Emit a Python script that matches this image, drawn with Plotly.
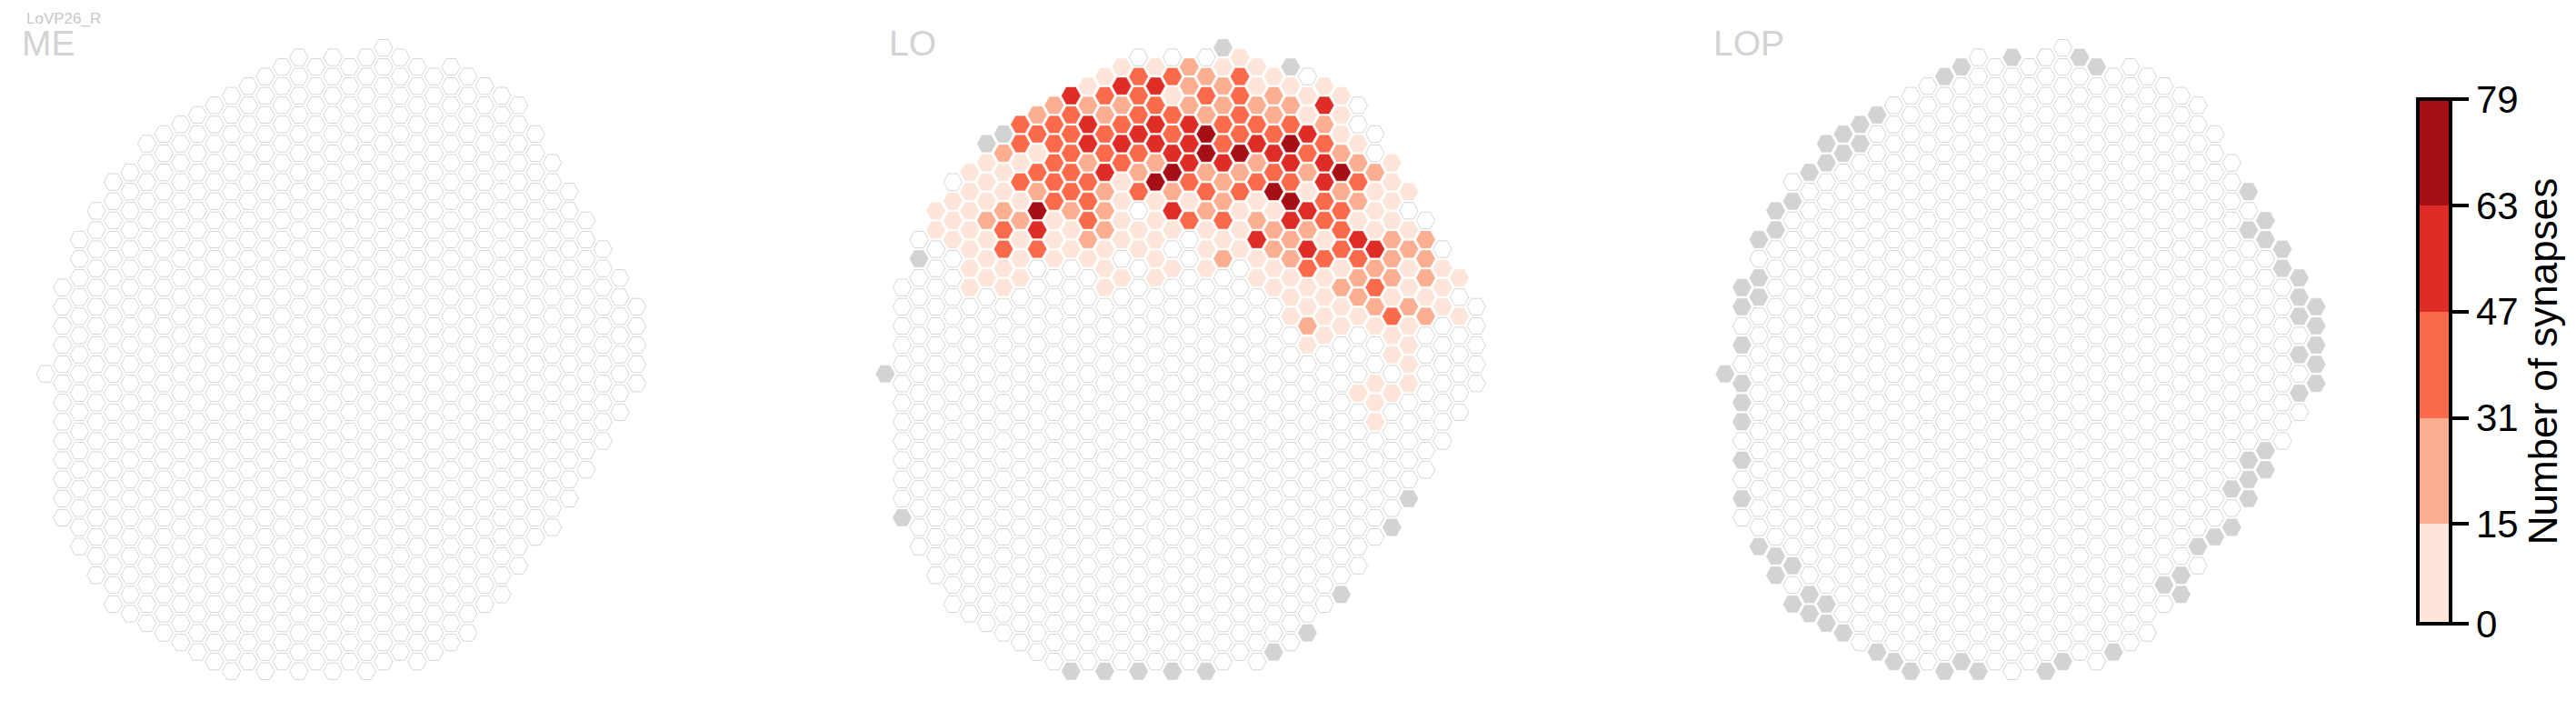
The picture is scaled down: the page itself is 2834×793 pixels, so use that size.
import plotly.graph_objects as go

W, H = 2834, 793

# ---------------- data ----------------
CELL_TYPE = "LoVP26_R"
PANELS = ["ME", "LO", "LOP"]

# shared hexagonal column grid: for each visual column (left -> right)
# first and last row index (half-row units, 0 = top)
COL_TOP = [34, 25, 20, 17, 14, 13, 10, 9, 8, 7, 6, 5, 4, 3, 2, 1, 2, 1,
           2, 1, 0, 1, 2, 3, 2, 3, 4, 5, 6, 9, 12, 15, 18, 21, 24, 27]
COL_BOTTOM = [34, 49, 52, 55, 58, 59, 60, 61, 62, 63, 64, 65, 64, 65, 64, 65, 64, 65,
              64, 65, 64, 63, 64, 63, 62, 61, 58, 57, 54, 51, 50, 47, 44, 41, 38, 35]

# colour bar classes
TICKS = [0, 15, 31, 47, 63, 79]
REDS = ["#fee5d9", "#fcae91", "#fb6a4a", "#de2d26", "#a50f15"]
# estimated synapse count for each class
CLASS_VALUE = {"0": 7, "1": 23, "2": 39, "3": 55, "4": 71}

# LO synapse classes per row: row -> (first column, codes for every 2nd column)
# "." = no synapses
LO_ROWS = {
    1: (15, "...0"),
    2: (14, "00100"),
    3: (13, "022120."),
    4: (12, "03311000"),
    5: (11, "322022100"),
    6: (10, "111211113."),
    7: (9, "1212212100"),
    8: (8, "2232332221."),
    9: (9, "2223242230."),
    10: (8, "22333323420"),
    11: (7, "10222344321."),
    12: (6, "0021213313310"),
    13: (5, "0022314112141"),
    14: (4, ".0222042122320"),
    15: (5, "00121212240100"),
    16: (4, "00022000104210"),
    17: (3, "001411.3100320."),
    18: (4, "01102002213200."),
    19: (3, "002301000011200"),
    20: (2, ".0000100.0310311"),
    21: (3, ".022000.0013231."),
    22: (2, "..0000.0.1012211"),
    23: (3, ".00..0.00.020100"),
    24: (2, "..00..00..0001110"),
    25: (1, "..00..0....001200"),
    26: (24, "00100."),
    27: (25, "00110."),
    28: (24, "000210"),
    29: (25, "1000"),
    30: (26, "0.0"),
    31: (25, "0..0"),
    32: (30, "0"),
    33: (31, "0"),
    35: (29, "00"),
    36: (28, "00"),
    37: (29, "0"),
    39: (29, "0"),
}

# columns not present in the neuropil (grey)
LO_GREY = [(20, 0), (24, 2), (7, 9), (6, 10), (2, 22), (0, 34), (1, 49), (31, 47),
           (30, 50), (27, 57), (25, 61), (23, 63), (11, 65), (13, 65), (15, 65),
           (17, 65), (19, 65)]
LOP_GREY = [(17, 1), (21, 1), (22, 2), (14, 2), (13, 3), (9, 7), (8, 8), (7, 9), (6, 10),
            (8, 10), (7, 11), (6, 12), (5, 13), (4, 16), (3, 17), (3, 19), (2, 20), (2, 24),
            (1, 25), (2, 26), (1, 27), (1, 31), (0, 34), (1, 35), (1, 37), (1, 39), (1, 43),
            (1, 47), (2, 52), (3, 53), (3, 55), (4, 54), (4, 58), (5, 57), (5, 59), (6, 58),
            (6, 60), (7, 61), (9, 63), (10, 64), (11, 65), (13, 65), (14, 64), (15, 65),
            (19, 65), (20, 64), (23, 63), (26, 56), (27, 55), (27, 57), (28, 52), (29, 51),
            (30, 50), (30, 46), (31, 47), (31, 45), (31, 43), (32, 42), (32, 44), (31, 15),
            (32, 18), (31, 19), (32, 20), (33, 21), (33, 23), (34, 24), (34, 26), (34, 28),
            (35, 27), (35, 29), (35, 31), (35, 33), (35, 35), (34, 32), (34, 36)]
ME_GREY = []

# ---------------- geometry (pixels) ----------------
PANEL_X0 = [50.2, 973.9, 1897.8]   # pixel x of column 0 in each panel
DX = 18.58                         # px per column
Y0 = 52.5                          # pixel y of row 0
DY = 10.55                         # px per half row
HX = 0.55                          # hexagon half width (columns)
HY = 0.865                         # hexagon half height (half rows)
XR = (-1.5, 36.5)
YR = (-2.0, 67.0)

# ---------------- build ----------------
cells = [(c, k) for c in range(len(COL_TOP))
         for k in range(COL_TOP[c], COL_BOTTOM[c] + 1, 2)]

lo_values = {}
for k, (start, codes) in LO_ROWS.items():
    for i, ch in enumerate(codes):
        if ch in CLASS_VALUE:
            lo_values[(start + 2 * i, k)] = CLASS_VALUE[ch]

panel_values = [{}, lo_values, {}]
panel_grey = [set(ME_GREY), set(LO_GREY), set(LOP_GREY)]


def value_class(v):
    n = 0
    for t in TICKS[1:-1]:
        if v >= t:
            n += 1
    return n


def hex_xy(cs):
    xs, ys = [], []
    for c, k in cs:
        xs += [c - HX, c - HX / 2, c + HX / 2, c + HX, c + HX / 2, c - HX / 2, c - HX, None]
        ys += [k, k - HY, k - HY, k, k + HY, k + HY, k, None]
    return xs, ys


fig = go.Figure()
for p, name in enumerate(PANELS):
    xa = "x" if p == 0 else f"x{p + 1}"
    ya = "y" if p == 0 else f"y{p + 1}"
    vals = panel_values[p]
    greys = panel_grey[p]
    white = [ck for ck in cells if ck not in vals and ck not in greys]
    grey = [ck for ck in cells if ck in greys]
    groups = [(white, "white", "#d6d6d6", 1.0), (grey, "#d3d3d3", "#d3d3d3", 0.6)]
    for ci, col in enumerate(REDS):
        sel = [ck for ck in cells if ck in vals and ck not in greys and value_class(vals[ck]) == ci]
        groups.append((sel, col, col, 0.6))
    for sel, fc, lc, lw in groups:
        if not sel:
            continue
        xs, ys = hex_xy(sel)
        fig.add_trace(go.Scatter(x=xs, y=ys, mode="lines", fill="toself", fillcolor=fc,
                                 line=dict(color=lc, width=lw), hoverinfo="skip",
                                 showlegend=False, xaxis=xa, yaxis=ya))
    if vals:
        pts = sorted(vals)
        fig.add_trace(go.Scatter(x=[c for c, k in pts], y=[k for c, k in pts], mode="markers",
                                 marker=dict(color=[vals[ck] for ck in pts], coloraxis="coloraxis",
                                             size=1, opacity=0),
                                 hoverinfo="skip", showlegend=False, xaxis=xa, yaxis=ya))

# stepped colour scale
scale = []
for i, col in enumerate(REDS):
    scale.append([(TICKS[i] - TICKS[0]) / (TICKS[-1] - TICKS[0]), col])
    scale.append([(TICKS[i + 1] - TICKS[0]) / (TICKS[-1] - TICKS[0]), col])

CB_TOP, CB_BOTTOM = 109, 686
layout = dict(
    width=W, height=H, margin=dict(l=0, r=0, t=0, b=0, pad=0),
    paper_bgcolor="white", plot_bgcolor="white",
    font=dict(family="Liberation Sans, Arial, sans-serif", color="black"),
    coloraxis=dict(
        cmin=TICKS[0], cmax=TICKS[-1], colorscale=scale,
        colorbar=dict(
            x=2660 / W, xanchor="left", xpad=0,
            y=1 - (CB_TOP + CB_BOTTOM) / 2 / H, yanchor="middle", ypad=0,
            thickness=36, thicknessmode="pixels", len=CB_BOTTOM - CB_TOP, lenmode="pixels",
            outlinecolor="black", outlinewidth=4,
            tickmode="array", tickvals=TICKS, ticktext=[str(t) for t in TICKS],
            ticks="outside", ticklen=18, tickwidth=4, tickcolor="black",
            tickfont=dict(size=42, color="black", family="Liberation Sans, Arial, sans-serif"),
            title=dict(text="Number of synapses", side="right",
                       font=dict(size=44, color="black",
                                 family="Liberation Sans Narrow, Liberation Sans, Arial, sans-serif")),
        ),
    ),
)
y_dom = [1 - (Y0 + YR[1] * DY) / H, 1 - (Y0 + YR[0] * DY) / H]
for p in range(3):
    sx = "" if p == 0 else str(p + 1)
    x_dom = [(PANEL_X0[p] + XR[0] * DX) / W, (PANEL_X0[p] + XR[1] * DX) / W]
    layout["xaxis" + sx] = dict(domain=x_dom, range=list(XR), visible=False, fixedrange=True,
                                anchor="y" + sx)
    layout["yaxis" + sx] = dict(domain=y_dom, range=[YR[1], YR[0]], visible=False, fixedrange=True,
                                anchor="x" + sx)

TITLE_X = [22, 976, 1883]
ann = [dict(text=CELL_TYPE, x=27 / W, y=1 - 21 / H, xref="paper", yref="paper", xanchor="left",
            yanchor="middle", showarrow=False, font=dict(size=17, color="#c8c8c8"))]
for p, name in enumerate(PANELS):
    ann.append(dict(text=name, x=TITLE_X[p] / W, y=1 - 47 / H, xref="paper", yref="paper",
                    xanchor="left", yanchor="middle", showarrow=False,
                    font=dict(size=39, color="#d3d3d3")))
layout["annotations"] = ann

fig.update_layout(**layout)
fig.write_html("out.html", config={"displayModeBar": False},
               post_script="document.body.style.margin='0';")
